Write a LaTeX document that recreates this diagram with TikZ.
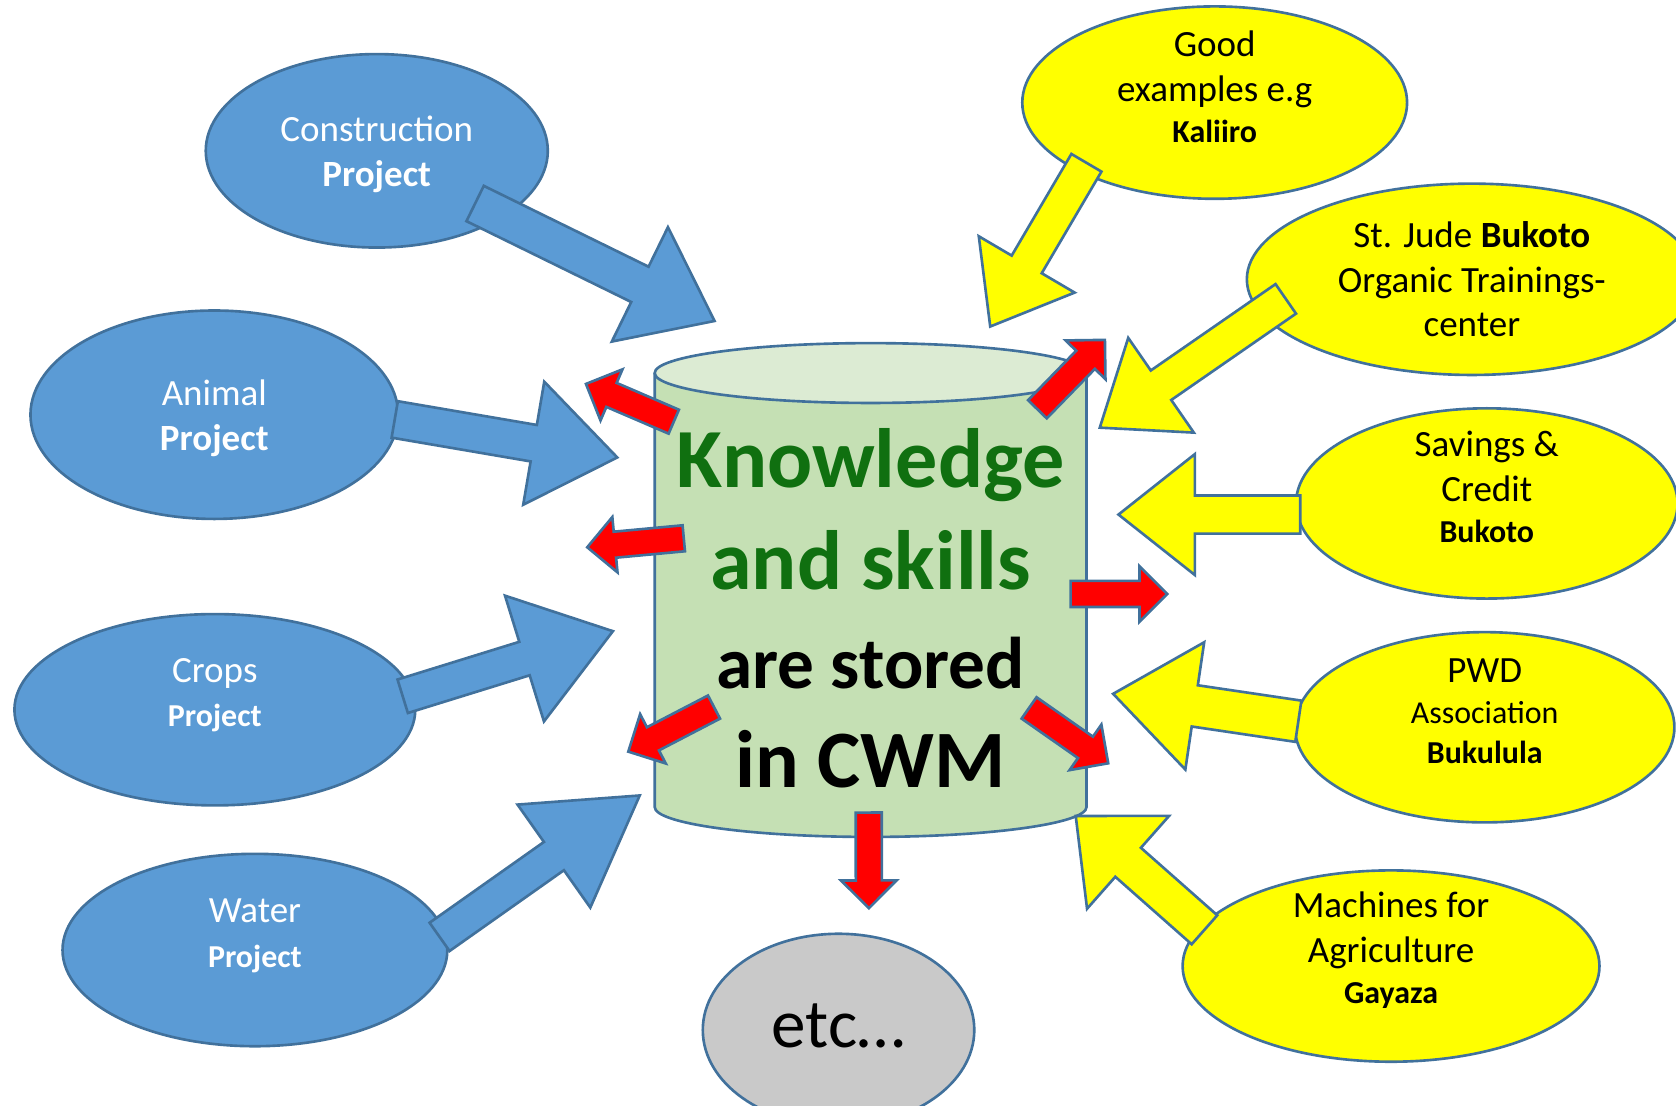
\documentclass[tikz,border=0pt]{standalone}
\usepackage{fontspec}
\setmainfont{Carlito}
\usepackage{pdfrender}
\usetikzlibrary{shapes.geometric,calc}

\definecolor{cblue}{HTML}{5B9BD5}
\definecolor{cedge}{HTML}{41719C}
\definecolor{cyel}{HTML}{FFFF00}
\definecolor{cgrey}{HTML}{C9C9C9}
\definecolor{cred}{HTML}{FF0000}
\definecolor{cbody}{HTML}{C5E0B4}
\definecolor{ctop}{HTML}{DCEBD3}
\definecolor{cgreen}{HTML}{107010}

\newcommand{\sm}[1]{{\fontsize{8.5}{10.2}\selectfont\bfseries #1}}
\newcommand{\glow}[1]{\textcolor{cgreen}{\textpdfrender{TextRenderingMode=FillStroke,LineWidth=0.6pt,StrokeColor=cedge}{#1}}}
% block arrow: style, tail, tip, shaft half width, head half width, head length
\newcommand{\fatarrow}[6]{%
    \path ($(#3)!#6!(#2)$) coordinate (fa-base);
    \draw[#1] ($(#2)!#4!90:(#3)$) -- ($(fa-base)!#4!-90:(#2)$)
        -- ($(fa-base)!#5!-90:(#2)$) -- (#3)
        -- ($(fa-base)!#5!90:(#2)$) -- ($(fa-base)!#4!90:(#2)$)
        -- ($(#2)!#4!-90:(#3)$) -- cycle;}

\begin{document}
\begin{tikzpicture}[
        txt/.style={align=center, font=\fontsize{9.85}{11.9}\selectfont},
        txtw/.style={txt, text=white},
        proj/.style={ellipse, draw=cedge, fill=cblue, line width=0.7pt, inner sep=0pt},
        part/.style={ellipse, draw=cedge, fill=cyel, line width=0.7pt, inner sep=0pt},
        bluearr/.style={draw=cedge, fill=cblue, line width=0.7pt},
        yelarr/.style={draw=cedge, fill=cyel, line width=0.7pt},
        redarr/.style={draw=cedge, fill=cred, line width=0.7pt}]
    \useasboundingbox (0,0) rectangle (15.68,-10.34);

    % projects
    \path   node[proj, minimum width=3.20cm, minimum height=1.81cm,
                 label={[txtw, yshift=-0.035cm]center:{Construction\\\textbf{Project}}}] (cons) at (3.525,-1.411) {}
            node[proj, minimum width=3.44cm, minimum height=1.95cm,
                 label={[txtw, yshift=-0.035cm]center:{Animal\\\textbf{Project}}}] (anim) at (2.005,-3.88) {}
            node[proj, minimum width=3.75cm, minimum height=1.79cm,
                 label={[txtw, yshift=0.135cm]center:{Crops\\\sm{Project}}}] (crop) at (2.01,-6.64) {}
            node[proj, minimum width=3.60cm, minimum height=1.80cm,
                 label={[txtw, yshift=0.135cm]center:{Water\\\sm{Project}}}] (watr) at (2.385,-8.888) {};

    % partners
    \path   node[part, minimum width=3.60cm, minimum height=1.80cm,
                 label={[txt, yshift=0.15cm]center:{Good\\examples e.g\\[-1pt]\sm{Kaliiro}}}] (good) at (11.364,-0.96) {}
            node[part, minimum width=4.21cm, minimum height=1.79cm,
                 label={[txt]center:{St. Jude \textbf{Bukoto}\\Organic Trainings-\\center}}] (jude) at (13.77,-2.613) {}
            node[part, minimum width=3.57cm, minimum height=1.78cm,
                 label={[txt, yshift=0.155cm]center:{Savings \&\\Credit\\[-1pt]\sm{Bukoto}}}] (save) at (13.91,-4.71) {}
            node[part, minimum width=3.55cm, minimum height=1.78cm,
                 label={[txt, yshift=0.15cm]center:{PWD\\[-0.8pt]{\fontsize{8.5}{10.2}\selectfont Association}\\[-1.2pt]\sm{Bukulula}}}] (pwd) at (13.89,-6.804) {}
            node[part, minimum width=3.90cm, minimum height=1.79cm,
                 label={[txt, yshift=0.15cm]center:{Machines for\\Agriculture\\[-1pt]\sm{Gayaza}}}] (mach) at (13.014,-9.038) {};

    \node[ellipse, draw=cedge, fill=cgrey, line width=0.7pt, inner sep=0pt,
          minimum width=2.54cm, minimum height=1.80cm,
          label={[font=\fontsize{18.4}{22}\selectfont, yshift=0.035cm]center:{etc…}}] (etc) at (7.845,-9.636) {};

    % the store
    \draw[draw=cedge, fill=cbody, line width=0.7pt] (6.125,-3.49) -- (6.125,-7.55)
        arc[start angle=180, end angle=360, x radius=2.02cm, y radius=0.28cm] -- (10.165,-3.49);
    \draw[draw=cedge, fill=ctop, line width=0.7pt] (8.145,-3.49) ellipse[x radius=2.02cm, y radius=0.28cm];

    % arrows in
    \path   coordinate (b1s) at (4.445,-1.904)   coordinate (b1e) at (6.685,-3.003)
            coordinate (b2s) at (3.693,-3.924)   coordinate (b2e) at (5.775,-4.28)
            coordinate (b3s) at (3.7675,-6.514)  coordinate (b3e) at (5.734,-5.905)
            coordinate (b4s) at (4.1125,-8.765)  coordinate (b4e) at (5.985,-7.442)
            coordinate (y1s) at (10.164,-1.523)  coordinate (y1e) at (9.264,-3.055)
            coordinate (y2s) at (12.029,-2.796)  coordinate (y2e) at (10.289,-4.001)
            coordinate (y3s) at (12.164,-4.814)  coordinate (y3e) at (10.464,-4.814)
            coordinate (y4s) at (12.1465,-6.7475) coordinate (y4e) at (10.414,-6.491)
            coordinate (y5s) at (11.2685,-8.6985) coordinate (y5e) at (10.064,-7.634);
    \fatarrow{bluearr}{b1s}{b1e}{0.184cm}{0.596cm}{0.778cm}
    \fatarrow{bluearr}{b2s}{b2e}{0.173cm}{0.584cm}{0.793cm}
    \fatarrow{bluearr}{b3s}{b3e}{0.164cm}{0.616cm}{0.866cm}
    \fatarrow{bluearr}{b4s}{b4e}{0.162cm}{0.59cm}{0.983cm}
    \fatarrow{yelarr}{y1s}{y1e}{0.163cm}{0.52cm}{0.674cm}
    \fatarrow{yelarr}{y2s}{y2e}{0.168cm}{0.539cm}{0.697cm}
    \fatarrow{yelarr}{y3s}{y3e}{0.178cm}{0.566cm}{0.715cm}
    \fatarrow{yelarr}{y4s}{y4e}{0.195cm}{0.602cm}{0.772cm}
    \fatarrow{yelarr}{y5s}{y5e}{0.181cm}{0.58cm}{0.654cm}

    \node[align=center, font=\fontsize{22.4}{26.3}\selectfont\bfseries] (store) at (8.145,-5.69)
        {\glow{Knowledge}\\[1pt]\glow{and skills}\\{\fontsize{19.5}{26.3}\selectfont are stored}\\{\fontsize{21.7}{26.3}\selectfont in CWM}};

    % arrows out
    \path   coordinate (r1s) at (6.3035,-3.945) coordinate (r1e) at (5.482,-3.592)
            coordinate (r2s) at (6.397,-5.036)  coordinate (r2e) at (5.494,-5.12)
            coordinate (r3s) at (6.68,-6.615)   coordinate (r3e) at (5.878,-7.032)
            coordinate (r4s) at (9.7055,-3.829) coordinate (r4e) at (10.337,-3.18)
            coordinate (r5s) at (10.016,-5.5565) coordinate (r5e) at (10.92,-5.5565)
            coordinate (r6s) at (9.6275,-6.623) coordinate (r6e) at (10.368,-7.141)
            coordinate (r7s) at (8.1275,-7.602) coordinate (r7e) at (8.129,-8.497);
    \foreach \r in {1,...,7}{
        \fatarrow{redarr}{r\r s}{r\r e}{0.122cm}{0.26cm}{0.26cm}
    }
\end{tikzpicture}
\end{document}
